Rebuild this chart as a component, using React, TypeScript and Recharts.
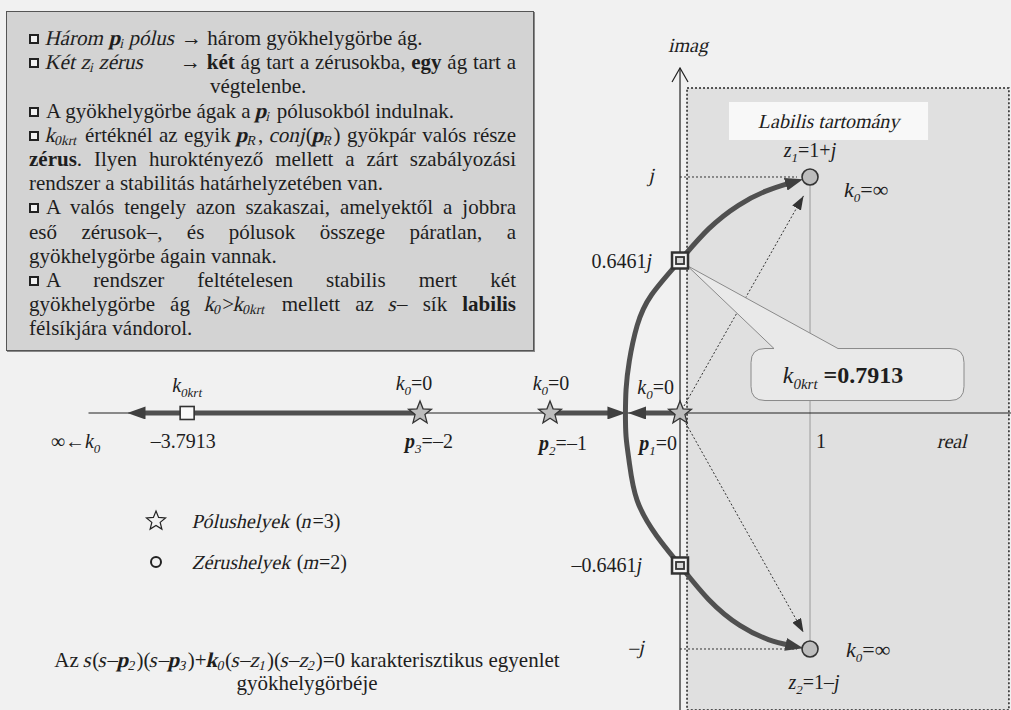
import React from 'react';
import { ScatterChart, Scatter, XAxis, YAxis, ReferenceArea, ReferenceDot, ReferenceLine } from 'recharts';

// poles and zeros of s(s+1)(s+2) + k0 (s - z1)(s - z2)
const poleRe = [0, -1, -2];
const poleIm = [0, 0, 0];
const zeroRe = [1, 1];
const zeroIm = [1, -1];

// stability limit at k0krt: third real root and the imaginary-axis crossings
const kCrit = 0.7913;
const realCrossRe = [-3.7913];
const realCrossIm = [0];
const imagCrossRe = [0, 0];
const imagCrossIm = [0.6461, -0.6461];

// complex branches, from the breakaway point towards the zeros
const upperRe = [-0.42, -0.415, -0.39, -0.33, -0.22, 0, 0.22, 0.45, 0.66, 0.85];
const upperIm = [0, 0.1, 0.22, 0.37, 0.5, 0.6461, 0.78, 0.88, 0.94, 0.975];
const lowerRe = [-0.42, -0.415, -0.39, -0.33, -0.18, 0, 0.22, 0.46, 0.68, 0.85];
const lowerIm = [0, -0.1, -0.21, -0.37, -0.52, -0.6461, -0.79, -0.9, -0.96, -0.985];

// real-axis branches: pole -> arrow
const tailP3Re = [-2, -4.15];
const tailP2Re = [-1, -0.52];
const tailP1Re = [0, -0.3];

// dotted rays from the origin towards the zeros
const rayRe = [0.95, 0.95];
const rayIm = [0.92, -0.93];

const X_DOMAIN: [number, number] = [-5.2308, 2.546];
const Y_DOMAIN: [number, number] = [-1.2585, 1.75];

const INK = '#1e1e1e';
const CURVE = '#505050';
const SERIF = '"Liberation Serif", serif';
const SLANT = -13;

const pts = (re: number[], im: number[]) => re.map((x, i) => ({ x, y: im[i] }));
const onAxis = (re: number[]) => re.map((x) => ({ x, y: 0 }));
const fmt = (v: number) => (v < 0 ? '\u2013' + Math.abs(v) : String(v));
const noDot = () => <g />;

const starPath = (cx: number, cy: number, R: number, r: number) => {
  let d = '';
  for (let i = 0; i < 10; i++) {
    const a = -Math.PI / 2 + (i * Math.PI) / 5;
    const rad = i % 2 === 0 ? R : r;
    d += (i ? 'L' : 'M') + (cx + rad * Math.cos(a)).toFixed(2) + ',' + (cy + rad * Math.sin(a)).toFixed(2);
  }
  return d + 'Z';
};

const PoleMark = (p: any) => <path d={starPath(p.cx, p.cy, 12, 5.2)} fill="#bdbdbd" stroke="#333" strokeWidth={1.3} />;
const ZeroMark = (p: any) => <circle cx={p.cx} cy={p.cy} r={8} fill="#bdbdbd" stroke="#333" strokeWidth={1.6} />;
const RealCritMark = (p: any) => (
  <rect x={p.cx - 7} y={p.cy - 6.5} width={14} height={13} fill="#fafafa" stroke="#333" strokeWidth={1.6} />
);
const ImagCritMark = (p: any) => (
  <g>
    <rect x={p.cx - 8} y={p.cy - 8} width={16} height={16} fill="#f4f4f4" stroke="#333" strokeWidth={2.5} />
    <rect x={p.cx - 4} y={p.cy - 3.5} width={8} height={7} fill="#d8d8d8" stroke="#333" strokeWidth={1.8} />
  </g>
);

const Callout = (p: any) => {
  const { cx, cy } = p;
  const L = cx + 71, R = cx + 284, T = cy + 88, B = cy + 140, r = 14;
  const d =
    `M${L + r},${T} L${cx + 94},${T} L${cx + 7},${cy + 5} L${cx + 158},${T} L${R - r},${T} ` +
    `Q${R},${T} ${R},${T + r} L${R},${B - r} Q${R},${B} ${R - r},${B} L${L + r},${B} ` +
    `Q${L},${B} ${L},${B - r} L${L},${T + r} Q${L},${T} ${L + r},${T} Z`;
  return (
    <g>
      <path d={d} fill="#e9e9e9" stroke="#8a8a8a" strokeWidth={1} />
      <text x={cx + 163} y={cy + 122} textAnchor="middle" style={{ fontFamily: SERIF }} fontSize={24} fill={INK}>
        <tspan fontStyle="italic">k</tspan>
        <tspan fontStyle="italic" fontSize={15} dy={6}>0krt</tspan>
        <tspan dy={-6} fontWeight="bold"> ={kCrit}</tspan>
      </text>
    </g>
  );
};

// text placed at a data point; `slant` shears an upright serif run into an italic look
const tag = (
  x: number,
  y: number,
  dx: number,
  dy: number,
  body: React.ReactNode,
  anchor: 'start' | 'middle' | 'end' = 'middle',
  size = 20,
  slant = false,
) => (
  <ReferenceDot
    x={x}
    y={y}
    r={0}
    ifOverflow="visible"
    shape={(p: any) => {
      const tx = p.cx + dx;
      const ty = p.cy + dy;
      return (
        <text
          x={tx}
          y={ty}
          textAnchor={anchor}
          style={{ fontFamily: SERIF }}
          fontSize={size}
          fill={INK}
          transform={slant ? `translate(${tx},${ty}) skewX(${SLANT}) translate(${-tx},${-ty})` : undefined}
        >
          {body}
        </text>
      );
    }}
  />
);

// k with an italic subscript, followed by plain text
const kLabel = (sub: string, rest: string) => (
  <>
    <tspan fontStyle="italic">k</tspan>
    <tspan fontStyle="italic" fontSize={13} dy={5}>{sub}</tspan>
    <tspan dy={-5}>{rest}</tspan>
  </>
);
const pLabel = (sub: string, rest: string) => (
  <>
    <tspan fontStyle="italic" fontWeight="bold">p</tspan>
    <tspan fontStyle="italic" fontSize={13} dy={5}>{sub}</tspan>
    <tspan dy={-5}>{rest}</tspan>
  </>
);
const zLabel = (sub: string, rest: string) => (
  <>
    <tspan fontStyle="italic">z</tspan>
    <tspan fontStyle="italic" fontSize={13} dy={5}>{sub}</tspan>
    <tspan dy={-5}>{rest}</tspan>
    <tspan fontStyle="italic">j</tspan>
  </>
);

const It = ({ children }: { children: React.ReactNode }) => (
  <span style={{ display: 'inline-block', transform: `skewX(${SLANT}deg)` }}>{children}</span>
);
const Sb = ({ children }: { children: React.ReactNode }) => (
  <sub style={{ fontSize: '0.65em', verticalAlign: '-0.25em', lineHeight: 0 }}>{children}</sub>
);
const Bullet = () => (
  <span
    style={{
      display: 'inline-block',
      width: 10,
      height: 10,
      border: '2.5px solid #222',
      background: '#f2f2f2',
      boxSizing: 'border-box',
      marginRight: 7,
      verticalAlign: 1,
    }}
  />
);

const line = { height: 24.2, whiteSpace: 'nowrap' as const };
const just = { height: 24.2, textAlign: 'justify' as const, textAlignLast: 'justify' as const };

const NotesBox = () => (
  <div
    style={{
      position: 'absolute',
      left: 6,
      top: 11,
      width: 528,
      height: 340,
      background: '#d3d3d3',
      border: '1px solid #555',
      boxShadow: '1px 1px 0 #888',
      boxSizing: 'border-box',
    }}
  >
    <div style={{ position: 'absolute', left: 22, top: 14, width: 487, fontFamily: SERIF, fontSize: 21, lineHeight: '24.2px', color: INK }}>
      <div style={line}>
        <Bullet />
        <It>Három</It> <It><b>p</b><Sb>i</Sb></It> <It>pólus</It> → három gyökhelygörbe ág.
      </div>
      <div style={{ ...line, position: 'relative' }}>
        <Bullet />
        <It>Két</It> <It>z<Sb>i</Sb></It> <It>zérus</It>
        <div style={{ position: 'absolute', left: 151, top: 0, width: 336, ...just }}>
          → <b>két</b> ág tart a zérusokba, <b>egy</b> ág tart a
        </div>
      </div>
      <div style={{ ...line, paddingLeft: 181 }}>végtelenbe.</div>
      <div style={line}>
        <Bullet />A gyökhelygörbe ágak a <It><b>p</b><Sb>i</Sb></It> pólusokból indulnak.
      </div>
      <div style={just}>
        <Bullet />
        <It>k<Sb>0krt</Sb></It> értéknél az egyik <It><b>p</b><Sb>R</Sb></It>, <It>conj</It>(<It><b>p</b><Sb>R</Sb></It>) gyökpár valós része
      </div>
      <div style={just}>
        <b>zérus</b>. Ilyen huroktényező mellett a zárt szabályozási
      </div>
      <div style={line}>rendszer a stabilitás határhelyzetében van.</div>
      <div style={just}>
        <Bullet />A valós tengely azon szakaszai, amelyektől a jobbra
      </div>
      <div style={just}>eső zérusok–, és pólusok összege páratlan, a</div>
      <div style={line}>gyökhelygörbe ágain vannak.</div>
      <div style={just}>
        <Bullet />A rendszer feltételesen stabilis mert két
      </div>
      <div style={just}>
        gyökhelygörbe ág <It>k<Sb>0</Sb></It>&gt;<It>k<Sb>0krt</Sb></It> mellett az <It>s</It>– sík <b>labilis</b>
      </div>
      <div style={line}>félsíkjára vándorol.</div>
    </div>
  </div>
);

const MarkerLegend = () => (
  <div style={{ position: 'absolute', left: 144, top: 507, fontFamily: SERIF, fontSize: 20, color: INK, lineHeight: '28px' }}>
    <div style={{ display: 'flex', alignItems: 'center', height: 28 }}>
      <svg width={24} height={24} style={{ marginRight: 25 }}>
        <path d={starPath(12, 12, 10, 4.4)} fill="none" stroke="#222" strokeWidth={1.2} />
      </svg>
      <span>
        <It>Pólushelyek</It> (<It>n</It>=3)
      </span>
    </div>
    <div style={{ display: 'flex', alignItems: 'center', height: 28, marginTop: 13 }}>
      <svg width={24} height={24} style={{ marginRight: 25 }}>
        <circle cx={12} cy={12} r={5} fill="none" stroke="#222" strokeWidth={2} />
      </svg>
      <span>
        <It>Zérushelyek</It> (<It>m</It>=2)
      </span>
    </div>
  </div>
);

const Caption = () => (
  <div
    style={{
      position: 'absolute',
      left: 37,
      top: 649,
      width: 540,
      textAlign: 'center',
      fontFamily: SERIF,
      fontSize: 21,
      lineHeight: '23px',
      color: INK,
      whiteSpace: 'nowrap',
    }}
  >
    <div>
      Az <It>s</It>(<It>s</It>–<It><b>p</b><Sb>2</Sb></It>)(<It>s</It>–<It><b>p</b><Sb>3</Sb></It>)+<It><b>k</b><Sb>0</Sb></It>(<It>s</It>–<It>z<Sb>1</Sb></It>)(<It>s</It>–<It>z<Sb>2</Sb></It>)=0 karakterisztikus egyenlet
    </div>
    <div>gyökhelygörbéje</div>
  </div>
);

const App = () => {
  return (
    <div
      style={{
        position: 'absolute',
        left: 0,
        top: 0,
        width: 1011,
        height: 710,
        background: '#f1f1f1',
        fontFamily: SERIF,
        overflow: 'hidden',
      }}
    >
      <svg width={0} height={0} style={{ position: 'absolute' }}>
        <defs>
          <marker id="headThick" viewBox="0 0 18 13" refX={5} refY={6.5} markerWidth={18} markerHeight={13} markerUnits="userSpaceOnUse" orient="auto">
            <path d="M0,0 L18,6.5 L0,13 Z" fill="#3f3f3f" />
          </marker>
          <marker id="headThin" viewBox="0 0 14 10" refX={14} refY={5} markerWidth={14} markerHeight={10} markerUnits="userSpaceOnUse" orient="auto">
            <path d="M0,0 L14,5 L0,10 Z" fill="#333" />
          </marker>
          <marker id="headOpen" viewBox="0 0 16 18" refX={15} refY={9} markerWidth={16} markerHeight={18} markerUnits="userSpaceOnUse" orient="auto">
            <path d="M1,1 L15,9 L1,17" fill="none" stroke="#222" strokeWidth={1.2} />
          </marker>
        </defs>
      </svg>

      <ScatterChart width={1011} height={710} margin={{ top: 0, right: 0, bottom: 0, left: 0 }}>
        <XAxis type="number" dataKey="x" domain={X_DOMAIN} allowDataOverflow hide />
        <YAxis type="number" dataKey="y" domain={Y_DOMAIN} allowDataOverflow hide />

        {/* right half-plane */}
        <ReferenceArea x1={0.054} x2={2.53} y1={Y_DOMAIN[0]} y2={1.377} fill="#e0e0e0" fillOpacity={1} stroke="#222" strokeDasharray="2 2" strokeWidth={1.5} />
        <ReferenceArea x1={0.377} x2={1.908} y1={1.157} y2={1.318} fill="#f8f8f8" fillOpacity={1} />

        <ReferenceLine segment={[{ x: 1, y: 1 }, { x: 1, y: -1 }]} stroke="#9a9a9a" strokeWidth={1} />
        <ReferenceLine segment={[{ x: 0, y: 1 }, { x: 0.9, y: 1 }]} stroke="#333" strokeDasharray="2 2" strokeWidth={1} />
        <ReferenceLine segment={[{ x: 0, y: -1 }, { x: 0.9, y: -1 }]} stroke="#333" strokeDasharray="2 2" strokeWidth={1} />

        {/* axes */}
        <Scatter data={onAxis([-4.55, 2.546])} line={{ stroke: '#222', strokeWidth: 1.2 }} shape={noDot} isAnimationActive={false} />
        <Scatter
          data={pts([0, 0], [Y_DOMAIN[0], 1.462])}
          line={{ stroke: '#222', strokeWidth: 1.2, markerEnd: 'url(#headOpen)' }}
          shape={noDot}
          isAnimationActive={false}
        />

        {/* dotted rays towards the zeros */}
        {rayRe.map((re, i) => (
          <Scatter
            key={'ray' + i}
            data={pts([poleRe[0], re], [poleIm[0], rayIm[i]])}
            line={{ stroke: '#333', strokeWidth: 1, strokeDasharray: '2 2', markerEnd: 'url(#headThin)' }}
            shape={noDot}
            isAnimationActive={false}
          />
        ))}

        <ReferenceDot x={imagCrossRe[0]} y={imagCrossIm[0]} r={0} ifOverflow="visible" shape={Callout} />

        {/* root locus branches */}
        {[onAxis(tailP3Re), onAxis(tailP2Re), onAxis(tailP1Re), pts(upperRe, upperIm), pts(lowerRe, lowerIm)].map((d, i) => (
          <Scatter
            key={'branch' + i}
            data={d}
            line={{ stroke: CURVE, strokeWidth: 5, markerEnd: 'url(#headThick)' }}
            lineJointType="natural"
            shape={noDot}
            isAnimationActive={false}
          />
        ))}

        <Scatter data={pts(realCrossRe, realCrossIm)} shape={RealCritMark} isAnimationActive={false} />
        <Scatter data={pts(imagCrossRe, imagCrossIm)} shape={ImagCritMark} isAnimationActive={false} />
        <Scatter data={pts(poleRe, poleIm)} shape={PoleMark} isAnimationActive={false} />
        <Scatter data={pts(zeroRe, zeroIm)} shape={ZeroMark} isAnimationActive={false} />

        {/* annotations */}
        {tag(0, 1.462, 8, -16, 'imag', 'middle', 20, true)}
        {tag(1.143, 1.237, 0, 7, 'Labilis tartomány', 'middle', 20, true)}
        {tag(2.09, 0, 0, 35, 'real', 'middle', 20, true)}
        {tag(1, 0, 11, 35, '1')}
        {tag(-4.65, 0, 0, 35, <>{'∞←'}{kLabel('0', '')}</>)}

        {tag(realCrossRe[0], 0, 0, -21, kLabel('0krt', ''))}
        {tag(realCrossRe[0], 0, -4, 35, fmt(realCrossRe[0]))}

        {tag(poleRe[2], 0, -6, -23, kLabel('0', '=0'))}
        {tag(poleRe[1], 0, 1, -23, kLabel('0', '=0'))}
        {tag(poleRe[0], 0, -6, -19, kLabel('0', '=0'), 'end')}
        {tag(poleRe[2], 0, 9, 35, pLabel('3', '=' + fmt(poleRe[2])))}
        {tag(poleRe[1], 0, 13, 37, pLabel('2', '=' + fmt(poleRe[1])))}
        {tag(poleRe[0], 0, -3, 37, pLabel('1', '=' + poleRe[0]), 'end')}

        {tag(0, zeroIm[0], -29, 5, 'j', 'middle', 20, true)}
        {tag(0, zeroIm[1], -44, 5, '–j', 'middle', 20, true)}
        {tag(0, imagCrossIm[0], -28, 7, <>{imagCrossIm[0]}<tspan fontStyle="italic">j</tspan></>, 'end')}
        {tag(0, imagCrossIm[1], -38, 7, <>{fmt(imagCrossIm[1])}<tspan fontStyle="italic">j</tspan></>, 'end')}

        {tag(zeroRe[0], zeroIm[0], 0, -20, zLabel('1', '=1+'))}
        {tag(zeroRe[1], zeroIm[1], 4, 40, zLabel('2', '=1–'))}
        {tag(zeroRe[0], zeroIm[0], 34, 20, kLabel('0', '=∞'), 'start', 22)}
        {tag(zeroRe[1], zeroIm[1], 36, 8, kLabel('0', '=∞'), 'start', 22)}
      </ScatterChart>

      <NotesBox />
      <MarkerLegend />
      <Caption />
    </div>
  );
};

export default App;
